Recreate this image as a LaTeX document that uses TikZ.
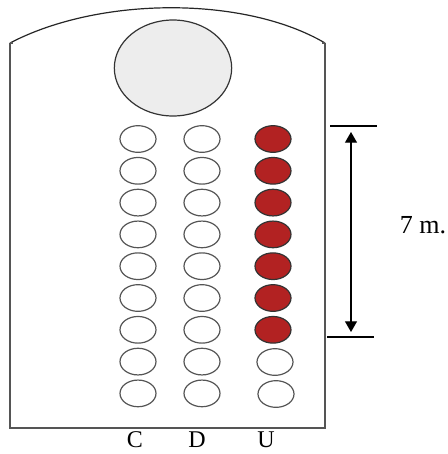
\documentclass[tikz,border=0pt]{standalone}
\usepackage{fontspec}
\setmainfont{Liberation Serif}
\usetikzlibrary{shapes.geometric,arrows.meta}
\definecolor{hole}{HTML}{B22222}
\definecolor{wall}{HTML}{555555}
\tikzset{
	trou/.style={ellipse,draw=wall,line width=0.9pt,inner sep=0pt,minimum width=27pt,minimum height=20pt,fill=white},
	plein/.style={trou,draw=black!80,fill=hole},
	lettre/.style={anchor=base,font=\fontsize{18}{21}\selectfont}
}
\begin{document}
\begin{tikzpicture}[x=0.75pt,y=-0.75pt]
	\useasboundingbox (0,0) rectangle (448,454);
	%le mur
	\draw [wall,line width=1.3pt] (10,43) -- (10,428) -- (325,428) -- (325,43);
	\draw [black!85,line width=0.9pt] (10,43) .. controls (100,-4) and (245,-4) .. (325,43);
	\draw [wall,line width=0.8pt] (10,43) -- (13,43);
	\draw [wall,line width=0.8pt] (325,43) -- (322,43);
	%fin
	%la grande ouverture
	\node [ellipse,draw=black!80,line width=0.9pt,fill=black!7,minimum width=88pt,minimum height=72pt] (porte) at (173,68) {};
	%les trous
	\foreach \i in {1,...,9}{
		\node [trou] (c\i) at (138,{139+31.8*(\i-1)}) {};
		\node [trou] (d\i) at (202,{139+31.8*(\i-1)}) {};
	}
	\foreach \i in {1,...,7}{
		\node [plein] (u\i) at (273,{139+31.8*(\i-1)}) {};
	}
	\node [trou] (u8) at (275,362) {};
	\node [trou] (u9) at (276,394) {};
	%colonnes
	\node [lettre] (lc) at (135,447) {C};
	\node [lettre] (ld) at (197,447) {D};
	\node [lettre] (lu) at (266,447) {U};
	%la cote
	\coordinate (haut) at (351,132);
	\coordinate (bas) at (351,332);
	\draw [line width=0.8pt] (330,126) -- (377,126);
	\draw [line width=0.8pt] (327,337) -- (374,337);
	\draw [{Triangle[length=8pt,width=9pt]}-{Triangle[length=8pt,width=9pt]},line width=0.8pt] (haut) -- (bas);
	\node [anchor=base,font=\fontsize{19.5}{23}\selectfont] (cote) at (423,233) {7 m.};
\end{tikzpicture}
\end{document}
